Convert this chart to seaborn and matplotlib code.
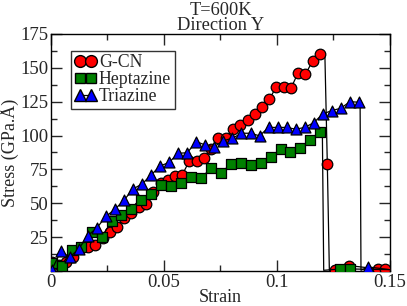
import numpy as np
import pandas as pd
import seaborn as sns
import matplotlib
matplotlib.use("Agg")
import matplotlib.pyplot as plt
from matplotlib.lines import Line2D
from matplotlib.ticker import MultipleLocator

# G-CN (red circles)
gcn_x = [0.0003, 0.0035, 0.0067, 0.0099, 0.0131, 0.0164, 0.0196, 0.0228, 0.0260, 0.0292,
         0.0324, 0.0356, 0.0388, 0.0420, 0.0452, 0.0485, 0.0517, 0.0549, 0.0581, 0.0613,
         0.0645, 0.0677, 0.0709, 0.0741, 0.0773, 0.0806, 0.0838, 0.0870, 0.0902, 0.0934,
         0.0966, 0.0998, 0.1030, 0.1062, 0.1094, 0.1126, 0.1159, 0.1191, 0.1223, 0.1255,
         0.1319, 0.1448, 0.1480]
gcn_y = [6.9, 4.4, 6.9, 10.6, 16.8, 18.0, 19.2, 24.0, 29.0, 32.3,
         39.0, 42.6, 47.5, 49.5, 58.6, 64.8, 67.0, 70.0, 71.0, 81.5,
         81.5, 83.2, 90.0, 98.0, 98.0, 104.6, 107.8, 111.5, 116.0, 121.3,
         126.8, 136.1, 136.1, 134.9, 146.5, 145.3, 155.3, 160.5, 79.0, 1.0,
         4.0, 1.5, 1.5]
gcn_extra_x = [0.1212, 0.1232, 0.1500]
gcn_extra_y = [161.0, 0.5, 1.0]

# Heptazine (green squares)
hep_x = [0.0003, 0.0047, 0.0091, 0.0135, 0.0180, 0.0224, 0.0268, 0.0312, 0.0356, 0.0400,
         0.0444, 0.0488, 0.0532, 0.0576, 0.0620, 0.0664, 0.0708, 0.0752, 0.0796, 0.0840,
         0.0884, 0.0928, 0.0972, 0.1016, 0.1060, 0.1104, 0.1148, 0.1192, 0.1280, 0.1324]
hep_y = [5.7, 4.0, 15.5, 18.0, 28.5, 25.0, 36.7, 41.0, 45.6, 52.7,
         56.5, 63.5, 62.5, 65.2, 69.2, 68.5, 76.0, 72.0, 79.3, 79.5,
         78.3, 80.0, 84.4, 89.9, 88.1, 90.6, 96.7, 102.4, 1.5, 1.5]
hep_extra_x = [0.1201, 0.1207, 0.1500]
hep_extra_y = [103.0, 0.5, 1.0]

# Triazine (blue triangles)
tri_x = [0.0003, 0.0043, 0.0083, 0.0123, 0.0163, 0.0203, 0.0243, 0.0283, 0.0323, 0.0363,
         0.0403, 0.0443, 0.0483, 0.0523, 0.0563, 0.0603, 0.0643, 0.0683, 0.0723, 0.0763,
         0.0803, 0.0843, 0.0883, 0.0923, 0.0963, 0.1003, 0.1043, 0.1083, 0.1123, 0.1163,
         0.1203, 0.1243, 0.1283, 0.1323, 0.1363, 0.1403]
tri_y = [0.7, 14.5, 10.3, 16.3, 26.2, 31.8, 40.3, 45.6, 52.2, 60.6,
         64.2, 70.9, 77.5, 80.2, 86.9, 87.3, 95.5, 93.0, 91.8, 96.2,
         98.0, 101.7, 101.7, 99.8, 106.0, 106.0, 106.0, 104.7, 106.0, 109.5,
         116.0, 118.4, 120.2, 125.0, 124.6, 3.0]
tri_extra_x = [0.1368, 0.1372, 0.1500]
tri_extra_y = [126.0, 0.5, 1.0]

sns.set_style("ticks")
plt.rcParams['font.family'] = ['Liberation Serif', 'DejaVu Serif']

fig = plt.figure(figsize=(4.07, 3.06), dpi=100)
ax = fig.add_axes([0.1253, 0.1144, 0.8327, 0.7746])

series = [
    ("G-CN", gcn_x, gcn_y, gcn_extra_x, gcn_extra_y, "o", "#ff0000", 58),
    ("Heptazine", hep_x, hep_y, hep_extra_x, hep_extra_y, "s", "#008000", 46),
    ("Triazine", tri_x, tri_y, tri_extra_x, tri_extra_y, "^", "#0000ff", 62),
]

handles = []
z = 2
for name, x, y, ex, ey, mk, col, s in series:
    line = pd.DataFrame({"strain": x + ex, "stress": y + ey}).sort_values("strain")
    sns.lineplot(data=line, x="strain", y="stress", color="black", lw=0.9,
                 estimator=None, sort=False, ax=ax, zorder=z)
    sns.scatterplot(x=x, y=y, marker=mk, s=s, color=col, edgecolor="black",
                    linewidth=0.9, ax=ax, zorder=z + 1)
    handles.append(Line2D([], [], color="black", lw=0.9, marker=mk,
                          markersize=8.5 if mk != "s" else 7.5,
                          markerfacecolor=col, markeredgecolor="black", label=name))
    z += 2

ax.set_xlim(0, 0.15)
ax.set_ylim(0, 175)
ax.xaxis.set_minor_locator(MultipleLocator(0.025))
ax.yaxis.set_minor_locator(MultipleLocator(12.5))
ax.set_xticks([0, 0.05, 0.1, 0.15])
ax.set_xticklabels(["0", "0.05", "0.1", "0.15"])
ax.set_yticks([0, 25, 50, 75, 100, 125, 150, 175])
ax.set_yticklabels(["", "25", "50", "75", "100", "125", "150", "175"])
ax.tick_params(which="both", direction="in", top=True, right=True, labelsize=13.5, width=1, pad=2)
ax.tick_params(which="major", length=8)
ax.tick_params(which="minor", length=4)
for sp in ax.spines.values():
    sp.set_linewidth(1)
    sp.set_color("black")

ax.set_xlabel("Strain", fontsize=13, labelpad=-1)
ax.set_ylabel("Stress (GPa.Å)", fontsize=13, labelpad=1)
ax.set_title("T=600K\nDirection Y", fontsize=13.2, linespacing=0.85, pad=2)

leg = ax.legend(handles=handles, loc="upper left", bbox_to_anchor=(0.06, 0.93), numpoints=2,
                fontsize=12.8, frameon=True, fancybox=False, handlelength=1.2,
                handletextpad=0.15, borderpad=0.2, labelspacing=0.0, borderaxespad=0)
leg.get_frame().set_edgecolor("black")
leg.get_frame().set_linewidth(1)

fig.savefig("out.png", dpi=100)
